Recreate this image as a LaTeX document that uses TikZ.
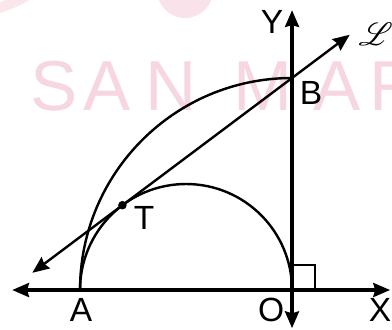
\documentclass[tikz,border=0pt]{standalone}
\usepackage{fontspec}
\setmainfont{Liberation Sans}
\usepackage{mathrsfs}
\usepackage{tikz}
\usetikzlibrary{positioning, calc, arrows.meta}
\definecolor{wmpink}{RGB}{246,214,224}

\begin{document}
\begin{tikzpicture}[x=2cm, y=2cm,
  axis/.style={line width=1.8pt, {Stealth[length=9pt, width=7.5pt, inset=1pt]}-{Stealth[length=9pt, width=7.5pt, inset=1pt]}},
  curve/.style={line width=1.3pt},
  lab/.style={font=\fontsize{18}{20}\selectfont, inner sep=0pt},
  wmark/.style={anchor=base, text=wmpink, font=\fontsize{38}{40}\selectfont, inner sep=0pt}]
\useasboundingbox (-2.755,-0.368) rectangle (0.943,2.736);
% watermark
\fill[wmpink!70] (-1.009,2.83) circle (0.264);
\fill[wmpink!60, rotate around={22:(-2.66,2.70)}] (-2.66,2.70) ellipse (0.25 and 0.05);
\foreach \ch/\px [count=\i] in {S/54, A/107, N/171, M/263, A/337, R/395}
  \node[wmark] (wm\i) at ({(\px-292)/106},1.698) {\ch};
% points
\coordinate (O) at (0,0);
\coordinate (A) at (-2,0);
\coordinate (B) at (0,2);
\coordinate (T) at (-1.6,0.8);
\coordinate (Xl) at (-2.64,0);
\coordinate (Xr) at (0.925,0);
\coordinate (Yt) at (0,2.64);
\coordinate (Yb) at (0,-0.36);
\coordinate (Ll) at (-2.45,0.1625);
\coordinate (Lr) at (0.544,2.408);
% arcs
\draw[curve] (A) arc[start angle=180, end angle=90, radius=2];
\draw[curve] (A) arc[start angle=180, end angle=0, radius=1];
% tangent
\draw[curve, {Stealth[length=9pt, width=7.5pt, inset=1pt]}-{Stealth[length=9pt, width=7.5pt, inset=1pt]}] (Ll) -- (Lr);
\fill (T) circle (2.3pt);
% axes
\draw[axis] (Xl) -- (Xr);
\draw[axis] (Yb) -- (Yt);
\draw[line width=1.1pt] ($(O)+(0,0.24)$) -- ($(O)+(0.22,0.24)$) -- ($(O)+(0.22,0)$);
% labels
\node[lab] (labY) at (-0.189,2.528) {Y};
\node[lab] (labL) at (0.79,2.415) {$\mathscr{L}$};
\node[lab] (labB) at (0.179,1.858) {B};
\node[lab] (labT) at (-1.396,0.679) {T};
\node[lab] (labA) at (-1.99,-0.189) {A};
\node[lab] (labO) at (-0.198,-0.189) {O};
\node[lab] (labX) at (0.83,-0.189) {X};
\end{tikzpicture}
\end{document}
